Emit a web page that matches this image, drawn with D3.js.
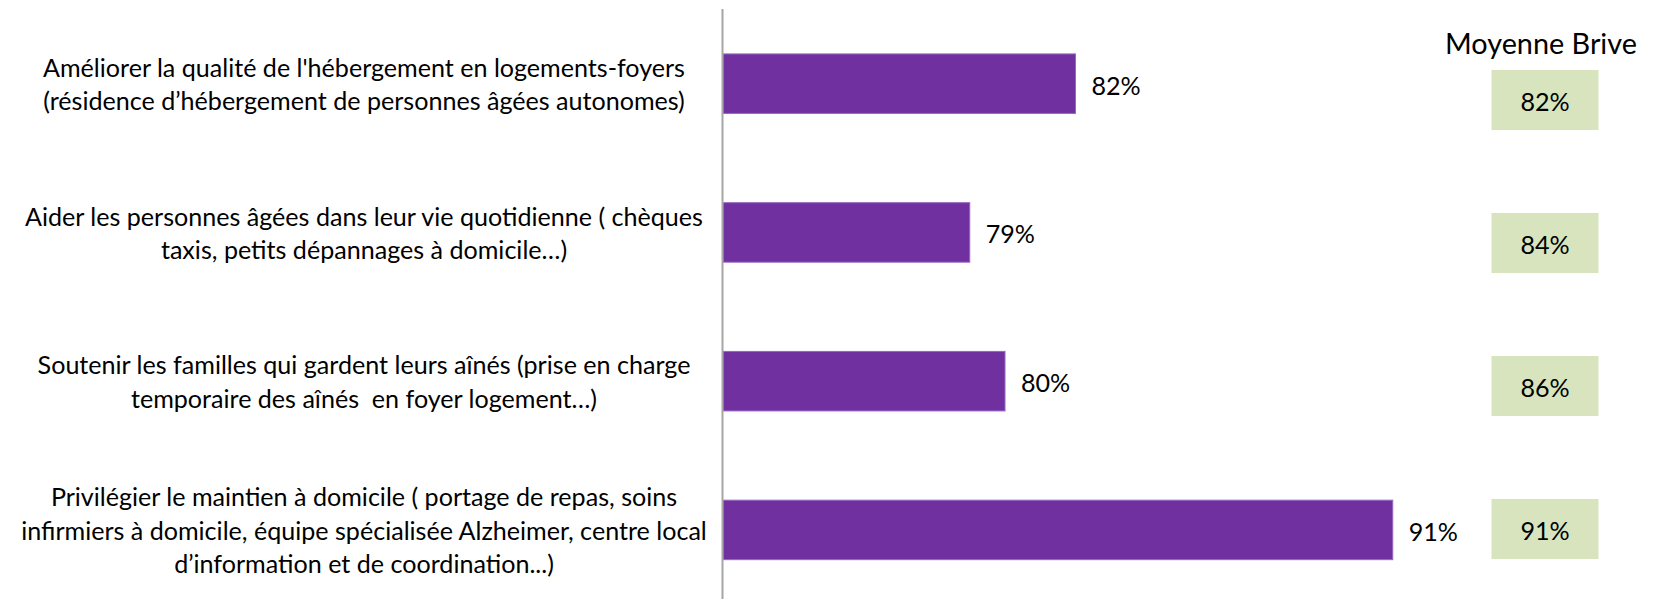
<!DOCTYPE html>
<html>
<head>
<meta charset="utf-8">
<script src="https://cdn.jsdelivr.net/npm/d3@7/dist/d3.min.js"></script>
<style>
  html, body { margin: 0; padding: 0; background: #ffffff; }
  svg { display: block; }
  text { font-family: Lato, "Open Sans", sans-serif; fill: #000; white-space: pre; }
</style>
</head>
<body>
<svg id="chart" width="1656" height="599"></svg>
<script>
// ---- data ----
const categoryLines = [
  ["Améliorer la qualité de l'hébergement en logements-foyers",
   "(résidence d’hébergement de personnes âgées autonomes)"],
  ["Aider les personnes âgées dans leur vie quotidienne ( chèques",
   "taxis, petits dépannages à domicile…)"],
  ["Soutenir les familles qui gardent leurs aînés (prise en charge",
   "temporaire des aînés  en foyer logement…)"],
  ["Privilégier le maintien à domicile ( portage de repas, soins",
   "infirmiers à domicile, équipe spécialisée Alzheimer, centre local",
   "d’information et de coordination...)"]
];
const values = [82, 79, 80, 91];
const briveValues = [82, 84, 86, 91];
const briveTitle = "Moyenne Brive";
const xDomain = [72, 100];

// ---- layout ----
const W = 1656, H = 599;
const axisX = 723;
const svg = d3.select("#chart");
const ids = d3.range(values.length);

const x = d3.scaleLinear().domain(xDomain).range([axisX, axisX + 28 * 35.25]);
const y = d3.scaleBand().domain(ids).range([9.3, 604.3]).paddingInner(0.6).paddingOuter(0.3);
const yBox = d3.scaleBand().domain(ids).range([28.5, 600.5]).paddingInner(0.58).paddingOuter(0.29);

// font fitting: widest label line should be ~686 px wide
const probe = svg.append("text").attr("font-size", 100);
let maxW = 0;
categoryLines.forEach(ls => ls.forEach(l => { probe.text(l); maxW = Math.max(maxW, probe.node().getComputedTextLength()); }));
const fs = Math.min(27, 100 * 686 / maxW);
probe.text(briveTitle);
const fsTitle = Math.min(32, 100 * 192 / probe.node().getComputedTextLength());
probe.remove();

// bars
svg.append("g").selectAll("rect").data(ids).join("rect")
  .attr("x", x(xDomain[0]))
  .attr("y", i => y(i))
  .attr("width", i => x(values[i]) - x(xDomain[0]))
  .attr("height", y.bandwidth())
  .attr("fill", "#7030a0")
  .attr("stroke", "#9467c0")
  .attr("stroke-width", 1);

// vertical axis line
svg.append("line")
  .attr("x1", axisX - 0.5).attr("x2", axisX - 0.5)
  .attr("y1", 9).attr("y2", H)
  .attr("stroke", "#a6a6a6").attr("stroke-width", 2);

// value labels
svg.append("g").selectAll("text").data(ids).join("text")
  .attr("x", i => x(values[i]) + 16)
  .attr("y", i => y(i) + y.bandwidth() / 2 + 1)
  .attr("dominant-baseline", "central")
  .attr("font-size", fs)
  .text(i => values[i] + "%");

// category labels
const lineH = 33.5;
const labelCx = 364;
const lg = svg.append("g");
ids.forEach(i => {
  const ls = categoryLines[i];
  const cy = y(i) + y.bandwidth() / 2;
  ls.forEach((l, j) => {
    lg.append("text")
      .attr("x", labelCx)
      .attr("y", cy + (j - (ls.length - 1) / 2) * lineH)
      .attr("text-anchor", "middle")
      .attr("dominant-baseline", "central")
      .attr("font-size", fs)
      .text(l);
  });
});

// Moyenne Brive column
const boxW = 107;
const boxCx = 1545;
svg.append("text")
  .attr("x", 1541).attr("y", 43)
  .attr("text-anchor", "middle")
  .attr("dominant-baseline", "central")
  .attr("font-size", fsTitle)
  .text(briveTitle);

const bg = svg.append("g");
bg.selectAll("rect").data(ids).join("rect")
  .attr("x", boxCx - boxW / 2)
  .attr("y", i => yBox(i))
  .attr("width", boxW)
  .attr("height", yBox.bandwidth())
  .attr("fill", "#d7e4bd");
bg.selectAll("text").data(ids).join("text")
  .attr("x", boxCx)
  .attr("y", i => yBox(i) + yBox.bandwidth() / 2 + 1)
  .attr("text-anchor", "middle")
  .attr("dominant-baseline", "central")
  .attr("font-size", fs)
  .text(i => briveValues[i] + "%");
</script>
</body>
</html>
